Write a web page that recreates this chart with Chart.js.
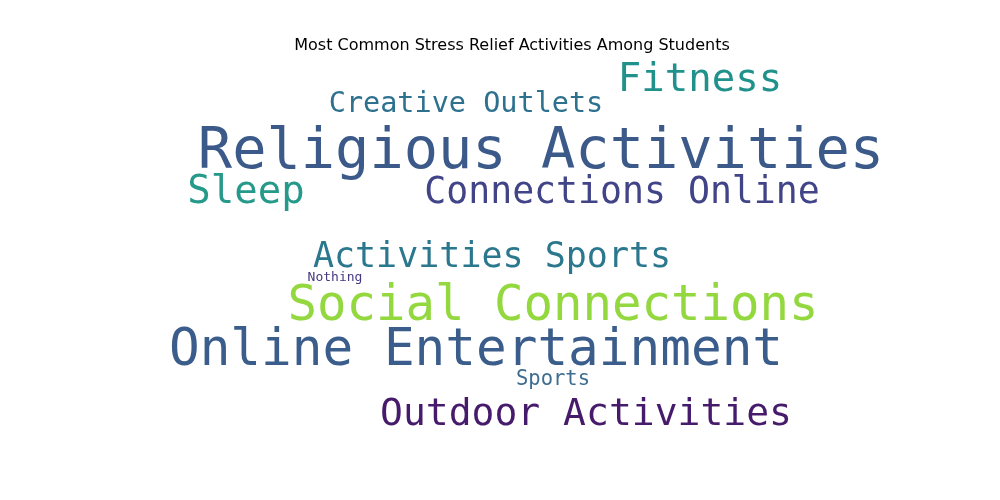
<!DOCTYPE html>
<html>
<head>
<meta charset="utf-8">
<script src="https://cdn.jsdelivr.net/npm/chart.js@4"></script>
<style>
  html, body { margin: 0; padding: 0; background: #fff; }
  #wrap { width: 1000px; height: 500px; }
</style>
</head>
<body>
<div id="wrap"><canvas id="cloud"></canvas></div>
<script>
// word cloud data (positions are word centres in picture coordinates)
const words = ['Religious Activities', 'Online Entertainment', 'Social Connections', 'Outdoor Activities',
  'Connections Online', 'Activities Sports', 'Fitness', 'Sleep', 'Creative Outlets', 'Sports', 'Nothing'];
const weights = [57, 51, 49, 38, 36.5, 35, 39, 39, 28.5, 20.5, 13];
const xs = [541, 476, 553, 586, 622, 492, 700, 246, 466, 553, 335];
const ys = [153, 352, 307, 415, 194, 258, 81, 193, 105, 380, 278];
const colors = ['#3b5a89', '#3b5d8b', '#94d840', '#471b6c', '#414487', '#2b788e', '#21918c', '#25998a',
  '#2d718e', '#3e6d90', '#453781'];

const wordPlugin = {
    id: 'words',
    afterDatasetsDraw(chart) {
        const ctx = chart.ctx;
        const sx = chart.scales.x, sy = chart.scales.y;
        ctx.save();
        ctx.textAlign = 'center';
        ctx.textBaseline = 'middle';
        chart.data.datasets[0].data.forEach((p, i) => {
            ctx.font = p.size + 'px "DejaVu Sans Mono", monospace';
            ctx.fillStyle = colors[i];
            ctx.fillText(p.label, sx.getPixelForValue(p.x), sy.getPixelForValue(p.y));
        });
        ctx.font = '16px "DejaVu Sans", sans-serif';
        ctx.fillStyle = '#000';
        ctx.fillText('Most Common Stress Relief Activities Among Students', sx.getPixelForValue(512), sy.getPixelForValue(46));
        ctx.restore();
    }
};

new Chart(document.getElementById('cloud'), {
    type: 'scatter',
    data: {
        datasets: [{
            data: words.map((w, i) => ({ x: xs[i], y: ys[i], label: w, size: weights[i] })),
            pointRadius: 0
        }]
    },
    options: {
        responsive: true,
        maintainAspectRatio: false,
        animation: false,
        layout: { padding: 0 },
        plugins: { legend: { display: false }, tooltip: { enabled: false } },
        scales: {
            x: { display: false, min: 0, max: 1000 },
            y: { display: false, min: 0, max: 500, reverse: true }
        }
    },
    plugins: [wordPlugin]
});
</script>
</body>
</html>
